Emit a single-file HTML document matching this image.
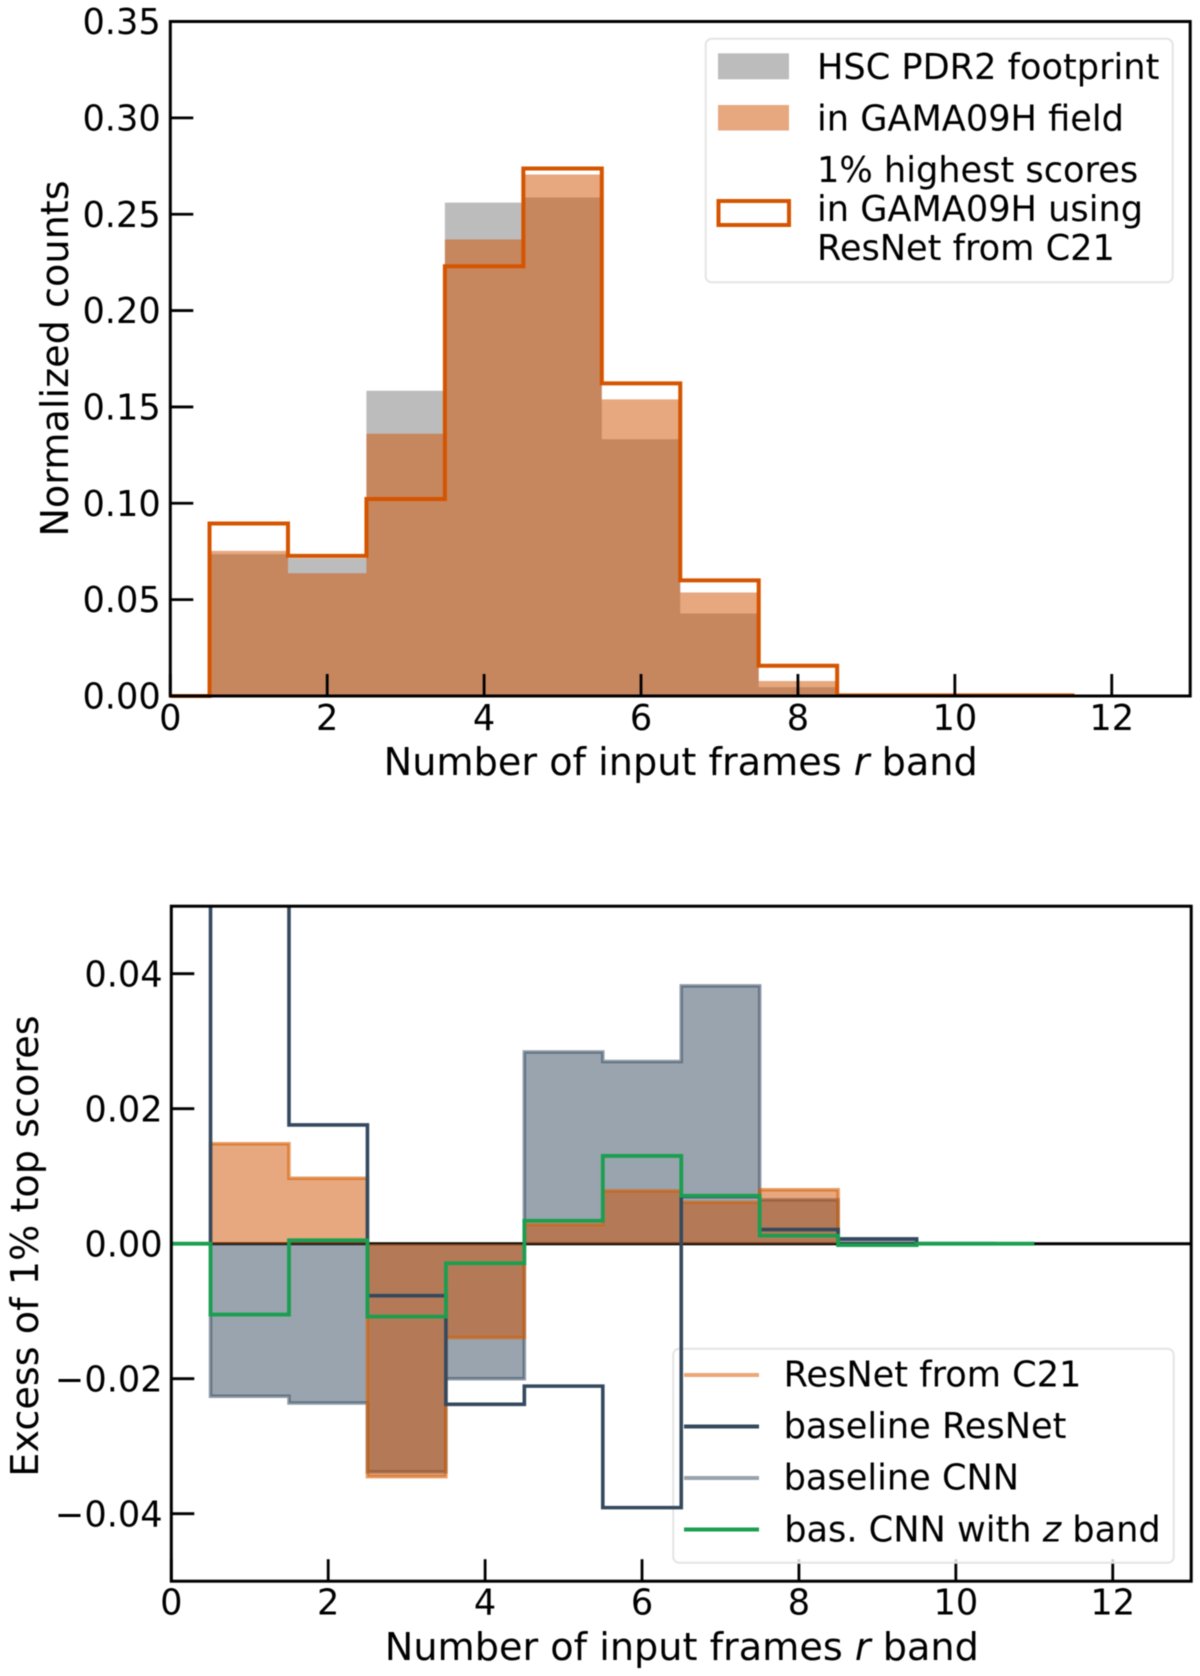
<!DOCTYPE html>
<html lang="en">
<head>
<meta charset="utf-8">
<title>Input frames histogram</title>
<style>
html,body{margin:0;padding:0;background:#fff;width:1200px;height:1676px;overflow:hidden}
svg{display:block;filter:blur(0.6px)}
text{font-family:"DejaVu Sans",sans-serif;font-size:35.15px;fill:#000}
text.title{font-size:38.2px}
.i{font-style:italic}
</style>
</head>
<body>
<svg id="chart" xmlns="http://www.w3.org/2000/svg" width="1200" height="1676" viewBox="0 0 1200 1676">
  <defs>
    <clipPath id="clip-top"><rect x="170.3" y="21.5" width="1020" height="674.5"/></clipPath>
    <clipPath id="clip-bottom"><rect x="171.3" y="906" width="1020" height="675.5"/></clipPath>
  </defs>
  <rect width="1200" height="1676" fill="#fff"/>
  <g id="top-panel"></g>
  <g id="bottom-panel"></g>
</svg>
<script>
const topBinCenters = [1, 2, 3, 4, 5, 6, 7, 8, 9, 10, 11];
const footprintCounts = [0.0736, 0.0715, 0.1584, 0.2560, 0.2587, 0.1332, 0.0428, 0.0046, 0.0003, 0.0001, 0.0001];
const gamaCounts = [0.0753, 0.0637, 0.1361, 0.2369, 0.2706, 0.1539, 0.0537, 0.0078, 0.0004, 0.0001, 0.0001];
const topScoreCounts = [0.0895, 0.0727, 0.1022, 0.2230, 0.2737, 0.1622, 0.0600, 0.0157, 0.0003, 0.0003, 0.0003];
const topYTicks = [0, 0.05, 0.10, 0.15, 0.20, 0.25, 0.30, 0.35];
const topYTickLabels = ['0.00', '0.05', '0.10', '0.15', '0.20', '0.25', '0.30', '0.35'];
const xTicks = [0, 2, 4, 6, 8, 10, 12];
const xTickLabels = ['0', '2', '4', '6', '8', '10', '12'];

const excessBinCenters = [1, 2, 3, 4, 5, 6, 7, 8, 9, 10];
const excessResNetC21 = [0.0148, 0.0097, -0.0345, -0.0139, 0.0028, 0.0078, 0.0061, 0.0080, 0, 0];
const excessBaselineCnn = [-0.0226, -0.0236, -0.0338, -0.0200, 0.0284, 0.0270, 0.0382, 0.0065, 0.0007, 0];
const excessBaselineResNet = [0.0800, 0.0176, -0.0077, -0.0238, -0.0211, -0.0391, 0.0070, 0.0021, 0.0007, 0];
const excessCnnZBand = [-0.0105, 0.0005, -0.0108, -0.0029, 0.0034, 0.0130, 0.0071, 0.0012, -0.0002, 0];
const bottomYTicks = [-0.04, -0.02, 0, 0.02, 0.04];
const bottomYTickLabels = ['\u22120.04', '\u22120.02', '0.00', '0.02', '0.04'];

const SVGNS = 'http://www.w3.org/2000/svg';
const xDomain = [0, 13];
const topYDomain = [0, 0.35];
const bottomYDomain = [-0.05, 0.05];

function linear(domain, range) {
  return v => range[0] + (v - domain[0]) * (range[1] - range[0]) / (domain[1] - domain[0]);
}
const xTop = linear(xDomain, [170.3, 1190.2]);
const yTop = linear(topYDomain, [696, 21.5]);
const xBottom = linear(xDomain, [171.3, 1191.2]);
const yBottom = linear(bottomYDomain, [1581.2, 906.2]);

function node(parent, tag, attrs, text) {
  const el = document.createElementNS(SVGNS, tag);
  Object.keys(attrs).forEach(k => el.setAttribute(k, attrs[k]));
  if (text !== undefined) el.textContent = text;
  parent.appendChild(el);
  return el;
}
function stepOutline(centers, values, x, y, start, end) {
  let d = 'M' + x(start) + ' ' + y(0) + ' H' + x(centers[0] - 0.5);
  centers.forEach((c, i) => {
    d += ' V' + y(values[i]) + ' H' + x(c + 0.5);
  });
  d += ' V' + y(0) + ' H' + x(end);
  return d;
}
function stepFill(centers, values, x, y) {
  let d = 'M' + x(centers[0] - 0.5) + ' ' + y(0);
  centers.forEach((c, i) => {
    d += ' V' + y(values[i]) + ' H' + x(c + 0.5);
  });
  return d + ' V' + y(0) + ' Z';
}
function nonZeroCenters(centers, values) {
  return centers.filter((c, i) => values[i] !== 0);
}
function richLabel(parent, attrs, before, italic, after) {
  const t = node(parent, 'text', attrs);
  t.appendChild(document.createTextNode(before));
  const s = node(t, 'tspan', {class: 'i'}, italic);
  
  
  t.appendChild(document.createTextNode(after));
  return t;
}

/* ---------- top panel ---------- */
const topPanel = document.getElementById('top-panel');
const topMarks = node(topPanel, 'g', {'clip-path': 'url(#clip-top)'});



const footprintHist = node(topMarks, 'path', {d: stepFill(topBinCenters, footprintCounts, xTop, yTop), fill: '#bcbcbc'});



const gamaHist = node(topMarks, 'path', {d: stepFill(topBinCenters, gamaCounts, xTop, yTop), fill: '#d05000', 'fill-opacity': 0.5});



const topScoreHist = node(topPanel, 'path', {d: stepOutline(topBinCenters, topScoreCounts, xTop, yTop, 0, 11.5), fill: 'none', stroke: '#d55400', 'stroke-width': 4, 'stroke-linejoin': 'miter'});



topYTicks.forEach((v, i) => {
  const tick = node(topPanel, 'line', {x1: xTop(0), x2: xTop(0) + 23, y1: yTop(v), y2: yTop(v), stroke: '#000', 'stroke-width': 2.8});
  
  
  const label = node(topPanel, 'text', {x: 160.7, y: yTop(v) + 12.6, 'text-anchor': 'end'}, topYTickLabels[i]);
  
  
});
xTicks.forEach((v, i) => {
  const tick = node(topPanel, 'line', {x1: xTop(v), x2: xTop(v), y1: yTop(0), y2: yTop(0) - 22, stroke: '#000', 'stroke-width': 2.8});
  
  
  const label = node(topPanel, 'text', {x: xTop(v), y: 730, 'text-anchor': 'middle'}, xTickLabels[i]);
  
  
});
const topFrame = node(topPanel, 'rect', {x: xTop(0), y: yTop(0.35), width: xTop(13) - xTop(0), height: yTop(0) - yTop(0.35), fill: 'none', stroke: '#000', 'stroke-width': 3});



const topXTitle = richLabel(topPanel, {class: 'title', x: 680.7, y: 775, 'text-anchor': 'middle'}, 'Number of input frames ', 'r', ' band');



const topYTitle = node(topPanel, 'text', {class: 'title', transform: 'translate(68 358.5) rotate(-90)', 'text-anchor': 'middle'}, 'Normalized counts');



const topLegend = node(topPanel, 'g', {});



const topLegendFrame = node(topLegend, 'rect', {x: 705.7, y: 38.8, width: 467, height: 243.5, rx: 6, fill: '#fff', 'fill-opacity': 0.8, stroke: '#e4e4e4', 'stroke-width': 2});



const swatchFootprint = node(topLegend, 'rect', {x: 718, y: 53.3, width: 71, height: 26, fill: '#bcbcbc'});



const labelFootprint = node(topLegend, 'text', {x: 817, y: 79}, 'HSC PDR2 footprint');



const swatchGama = node(topLegend, 'rect', {x: 718, y: 105, width: 71, height: 25.5, fill: '#d05000', 'fill-opacity': 0.5});



const labelGama = node(topLegend, 'text', {x: 817, y: 130.5}, 'in GAMA09H field');



const swatchTop = node(topLegend, 'rect', {x: 718.5, y: 201, width: 70.5, height: 24, fill: '#fff', stroke: '#d55400', 'stroke-width': 4});



const labelTop1 = node(topLegend, 'text', {x: 817, y: 182}, '1% highest scores');



const labelTop2 = node(topLegend, 'text', {x: 817, y: 221}, 'in GAMA09H using');



const labelTop3 = node(topLegend, 'text', {x: 817, y: 260}, 'ResNet from C21');



/* ---------- bottom panel ---------- */
const bottomPanel = document.getElementById('bottom-panel');

bottomYTicks.forEach((v, i) => {
  const tick = node(bottomPanel, 'line', {x1: xBottom(0), x2: xBottom(0) + 23, y1: yBottom(v), y2: yBottom(v), stroke: '#000', 'stroke-width': 2.8});
  
  
  const label = node(bottomPanel, 'text', {x: 162.6, y: yBottom(v) + 12.8, 'text-anchor': 'end'}, bottomYTickLabels[i]);
  
  
});
xTicks.forEach((v, i) => {
  const tick = node(bottomPanel, 'line', {x1: xBottom(v), x2: xBottom(v), y1: yBottom(-0.05), y2: yBottom(-0.05) - 22, stroke: '#000', 'stroke-width': 2.8});
  
  
  const label = node(bottomPanel, 'text', {x: xBottom(v), y: 1614.5, 'text-anchor': 'middle'}, xTickLabels[i]);
  
  
});

const bottomLegendFrame = node(bottomPanel, 'rect', {x: 673.2, y: 1348.8, width: 500.5, height: 214, rx: 6, fill: '#fff', 'fill-opacity': 0.8, stroke: '#e4e4e4', 'stroke-width': 2});



const zeroLine = node(bottomPanel, 'line', {x1: xBottom(0), x2: xBottom(13), y1: yBottom(0), y2: yBottom(0), stroke: '#000', 'stroke-width': 3});



const bottomMarks = node(bottomPanel, 'g', {'clip-path': 'url(#clip-bottom)'});



const cnnHist = node(bottomMarks, 'path', {d: stepFill(excessBinCenters, excessBaselineCnn, xBottom, yBottom), fill: '#34495e', 'fill-opacity': 0.5});



const cnnCenters = nonZeroCenters(excessBinCenters, excessBaselineCnn);
const cnnEdge = node(bottomMarks, 'path', {d: stepOutline(cnnCenters, excessBaselineCnn, xBottom, yBottom, 0.5, cnnCenters[cnnCenters.length - 1] + 0.5), fill: 'none', stroke: '#34495e', 'stroke-opacity': 0.55, 'stroke-width': 3.5});



const c21Hist = node(bottomMarks, 'path', {d: stepFill(excessBinCenters, excessResNetC21, xBottom, yBottom), fill: '#d05000', 'fill-opacity': 0.5});



const c21Centers = nonZeroCenters(excessBinCenters, excessResNetC21);
const c21Edge = node(bottomMarks, 'path', {d: stepOutline(c21Centers, excessResNetC21, xBottom, yBottom, 0.5, c21Centers[c21Centers.length - 1] + 0.5), fill: 'none', stroke: '#d55e00', 'stroke-opacity': 0.6, 'stroke-width': 3.5});



const resnetLine = node(bottomMarks, 'path', {d: stepOutline(excessBinCenters, excessBaselineResNet, xBottom, yBottom, 0.5, 10.5), fill: 'none', stroke: '#34495e', 'stroke-width': 3.6});



const zBandLine = node(bottomMarks, 'path', {d: stepOutline(excessBinCenters, excessCnnZBand, xBottom, yBottom, 0, 11), fill: 'none', stroke: '#1a9e50', 'stroke-width': 3.8});



const bottomFrame = node(bottomPanel, 'rect', {x: xBottom(0), y: yBottom(0.05), width: xBottom(13) - xBottom(0), height: yBottom(-0.05) - yBottom(0.05), fill: 'none', stroke: '#000', 'stroke-width': 3});



const bottomXTitle = richLabel(bottomPanel, {class: 'title', x: 681.8, y: 1660, 'text-anchor': 'middle'}, 'Number of input frames ', 'r', ' band');



const bottomYTitle = node(bottomPanel, 'text', {class: 'title', transform: 'translate(38 1246) rotate(-90)', 'text-anchor': 'middle'}, 'Excess of 1% top scores');



const bottomLegend = node(bottomPanel, 'g', {});



const handleC21 = node(bottomLegend, 'line', {x1: 684, x2: 759, y1: 1375, y2: 1375, stroke: '#eba778', 'stroke-width': 4});



const textC21 = node(bottomLegend, 'text', {x: 783.6, y: 1386.5}, 'ResNet from C21');



const handleResNet = node(bottomLegend, 'line', {x1: 684, x2: 759, y1: 1426.5, y2: 1426.5, stroke: '#34495e', 'stroke-width': 4});



const textResNet = node(bottomLegend, 'text', {x: 783.6, y: 1438}, 'baseline ResNet');



const handleCnn = node(bottomLegend, 'line', {x1: 684, x2: 759, y1: 1478, y2: 1478, stroke: '#99a3ad', 'stroke-width': 4});



const textCnn = node(bottomLegend, 'text', {x: 783.6, y: 1489.6}, 'baseline CNN');



const handleZ = node(bottomLegend, 'line', {x1: 684, x2: 759, y1: 1529.5, y2: 1529.5, stroke: '#1a9e50', 'stroke-width': 4});



const textZ = richLabel(bottomLegend, {x: 784.2, y: 1541.3}, 'bas. CNN with ', 'z', ' band');


</script>
</body>
</html>
